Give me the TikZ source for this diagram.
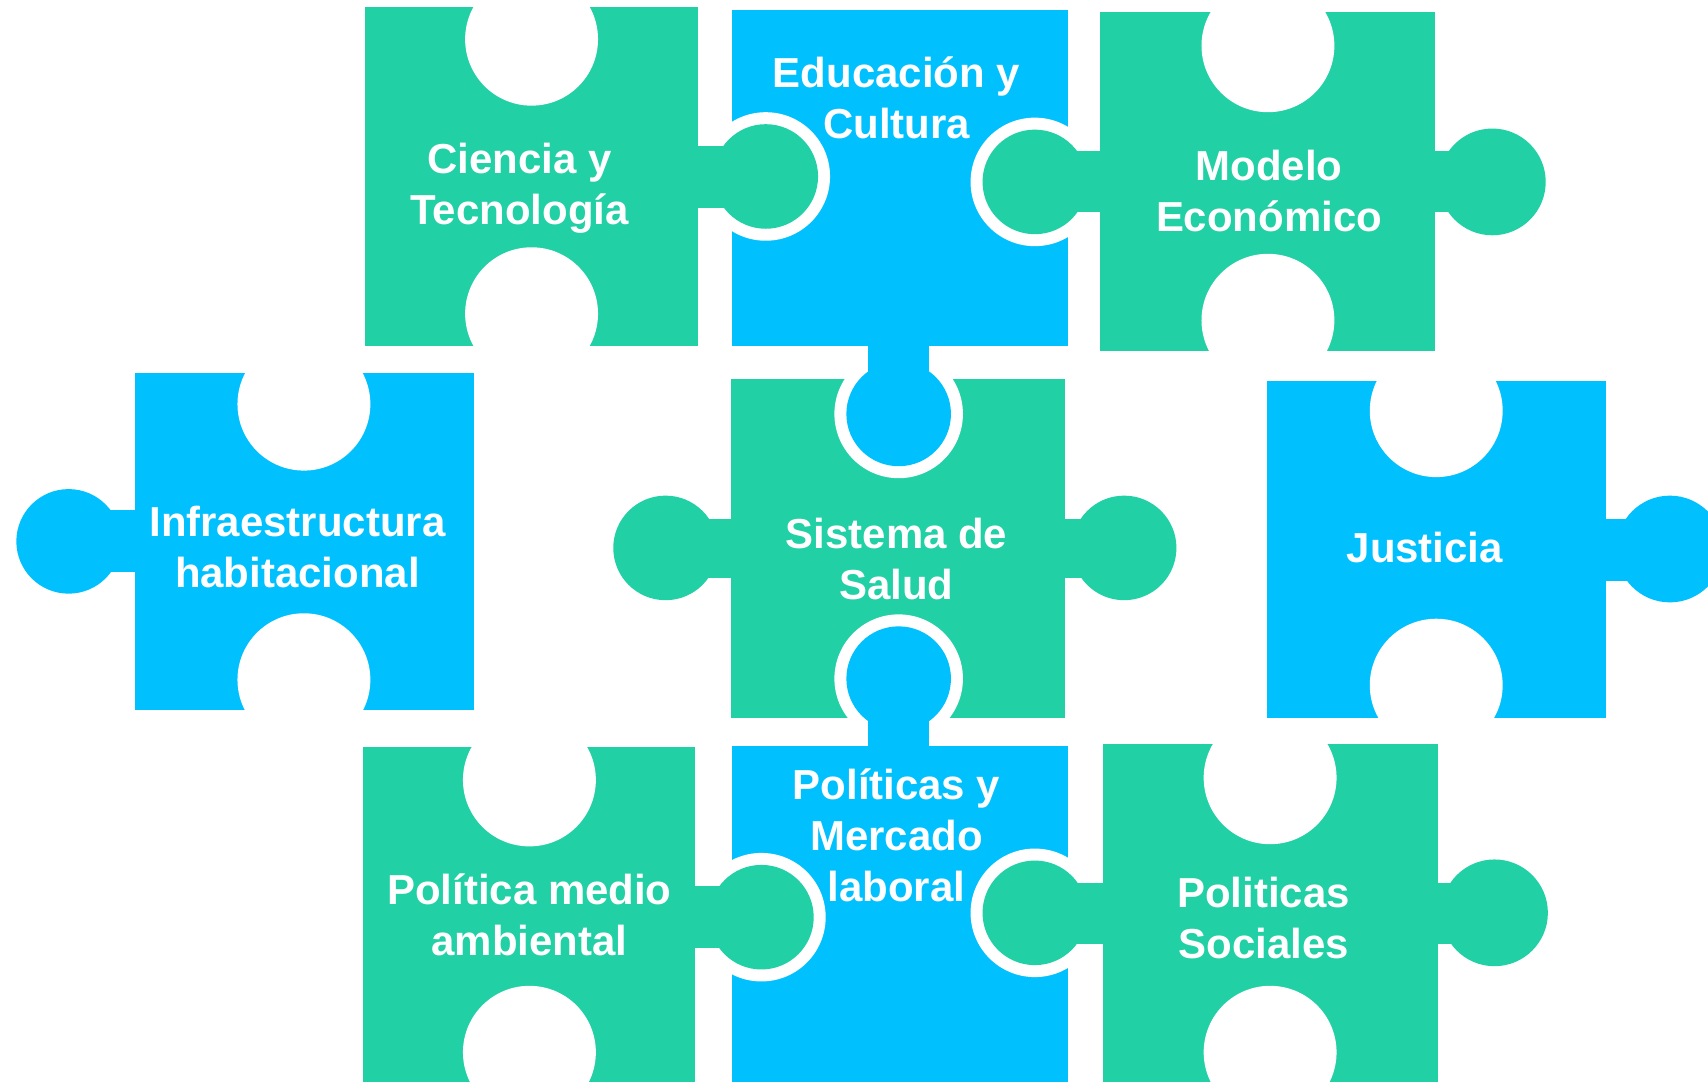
\documentclass[tikz,border=0pt]{standalone}
\usepackage{fontspec}
\setmainfont{Liberation Sans}
\definecolor{pgreen}{RGB}{33,208,165}
\definecolor{pblue}{RGB}{0,192,254}
\begin{document}
\begin{tikzpicture}[x=1pt,y=-1pt,
  lbl/.style={text=white,font=\fontsize{38.5}{47}\selectfont\bfseries,align=center,inner sep=0pt},
  gp/.style={fill=pgreen}, bp/.style={fill=pblue}, gapw/.style={fill=white}]
\useasboundingbox (0,0) rectangle (1568,993);
\clip (0,0) rectangle (1568,993);
% pieces: rectangle with its two empty holes clipped to it
\newcommand\piece[5]{%
  \fill[#1] #2 rectangle #3;
  \begin{scope}
    \clip #2 rectangle #3;
    \fill[gapw] #4 circle[radius=61pt];
    \fill[gapw] #5 circle[radius=61pt];
  \end{scope}}
\piece{gp}{(335,6)}{(641,318)}{(488,36)}{(488,288)}           % Ciencia
\fill[bp] (672,9) rectangle (980,318);                         % Educacion
\piece{gp}{(1010,11)}{(1317,322)}{(1164,42)}{(1164,294)}       % Modelo
\piece{bp}{(124,342)}{(435,652)}{(279,371)}{(279,624)}         % Infra
\fill[gp] (671,348) rectangle (978,659);                       % Sistema
\piece{bp}{(1163,350)}{(1474,659)}{(1318.5,377)}{(1318.5,629)} % Justicia
\piece{gp}{(333,686)}{(638,1000)}{(486,716)}{(486,966)}        % Politica medio
\fill[bp] (672,685) rectangle (980,1000);                      % Mercado
\piece{gp}{(1013,683)}{(1320,1000)}{(1166,714)}{(1166,966)}    % Sociales
% white rings around inserted knobs
\foreach \p in {(703,162),(950,167),(825,380),(825,623),(699,842),(950,838)}
  \fill[gapw] \p circle[radius=59pt];
% knobs: Ciencia right
\fill[gp] (641,134) rectangle (680,191);
\fill[gp] (703,162) circle[radius=48pt];
% Modelo left and right
\fill[gp] (980,139) rectangle (1010,195);
\fill[gp] (950,167) circle[radius=48pt];
\fill[gp] (1317,139) rectangle (1345,195);
\fill[gp] (1370,167) circle[radius=49pt];
% Educacion bottom
\fill[bp] (797,318) rectangle (853,350);
\fill[bp] (825,380) circle[radius=48pt];
% Infra left
\fill[bp] (95,468) rectangle (124,525);
\fill[bp] (63,497) circle[radius=48pt];
% Sistema left and right
\fill[gp] (640,476) rectangle (671,531);
\fill[gp] (611,503) circle[radius=48pt];
\fill[gp] (978,476) rectangle (1005,531);
\fill[gp] (1032,503) circle[radius=48pt];
% Justicia right
\fill[bp] (1474,476) rectangle (1510,533);
\fill[bp] (1533,504) circle[radius=49pt];
% Mercado top
\fill[bp] (797,650) rectangle (853,685);
\fill[bp] (825,623) circle[radius=48pt];
% Politica medio right
\fill[gp] (638,813) rectangle (670,870);
\fill[gp] (699,842) circle[radius=48pt];
% Sociales left and right
\fill[gp] (980,811) rectangle (1013,867);
\fill[gp] (950,838) circle[radius=48pt];
\fill[gp] (1320,811) rectangle (1345,867);
\fill[gp] (1372,838) circle[radius=49pt];
% labels
\node[lbl] (ciencia) at (477,173) {Ciencia y\\Tecnología};
\node[lbl] (educ) at (823,90) {Educación y\\Cultura};
\node[lbl] (modelo) at (1165,175) {Modelo\\Económico};
\node[lbl] (infra) at (273,502) {Infraestructura\\habitacional};
\node[lbl] (salud) at (823,513) {Sistema de\\Salud};
\node[lbl] (just) at (1308,503) {Justicia};
\node[lbl] (merc) at (823,767) {Políticas y\\Mercado\\laboral};
\node[lbl] (medio) at (486,840) {Política medio\\ambiental};
\node[lbl] (soc) at (1160,843) {Politicas\\Sociales};
\end{tikzpicture}
\end{document}
